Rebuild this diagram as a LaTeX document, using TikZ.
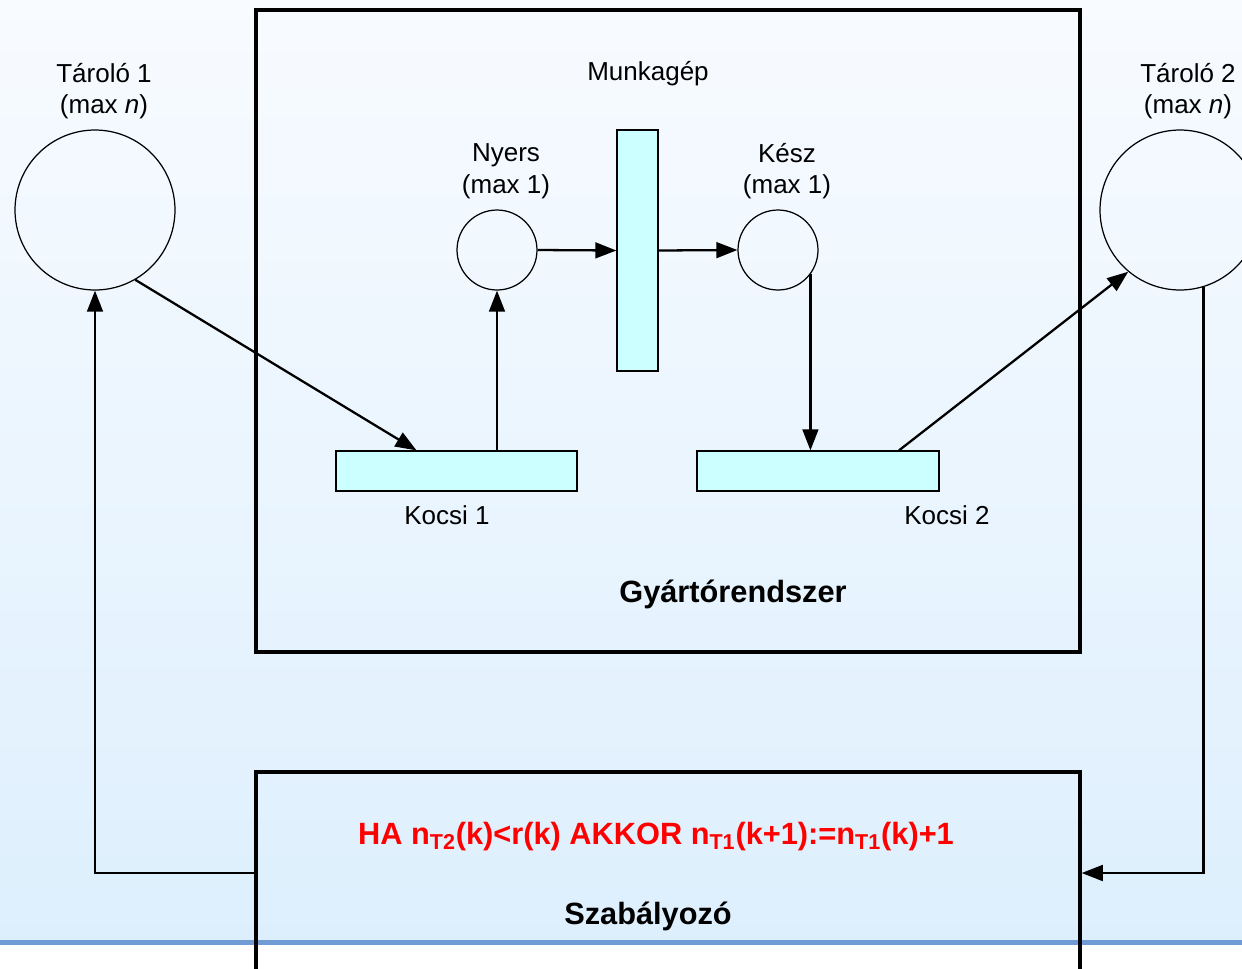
\documentclass[tikz,border=0pt]{standalone}
\usepackage{fontspec}
\setmainfont{Liberation Sans}
\usetikzlibrary{positioning,arrows.meta}
\definecolor{barfill}{HTML}{CCFFFF}
\definecolor{bgtop}{HTML}{F8FBFF}
\definecolor{bgbot}{HTML}{DDEFFD}
\definecolor{rulecol}{HTML}{709BD5}
\definecolor{ruletext}{HTML}{FF0000}

\begin{document}
\begin{tikzpicture}[x=0.02cm,y=-0.02cm,
  lbl/.style={align=center,font=\fontsize{14.8}{18}\selectfont,inner sep=0pt},
  bold/.style={font=\fontsize{17.5}{21}\selectfont\bfseries,inner sep=0pt},
  place/.style={draw,circle,line width=0.7pt,inner sep=0pt},
  bar/.style={draw,fill=barfill,line width=0.7pt,inner sep=0pt},
  frame/.style={draw,line width=2pt,inner sep=0pt},
  arr/.style={-{Triangle[length=12pt,width=9pt]},line width=1.3pt}]
\useasboundingbox (0,0) rectangle (1242,968);
\shade[top color=bgtop,bottom color=bgbot] (0,0) rectangle (1242,942);
\fill[rulecol] (0,939.5) rectangle (1242,944.5);
\node[frame,minimum width=16.48cm,minimum height=12.84cm] (gyarto) at (668,331) {};
\node[frame,minimum width=16.48cm,minimum height=4.04cm] (szab) at (668,873) {};
\node[place,minimum size=3.2cm] (taro1) at (95,210) {};
\node[place,minimum size=3.2cm] (taro2) at (1180,210) {};
\node[place,minimum size=1.6cm] (nyers) at (497,250) {};
\node[place,minimum size=1.6cm] (kesz) at (778,250) {};
\node[bar,minimum width=0.82cm,minimum height=4.82cm] (munkagep) at (637.5,250.5) {};
\node[bar,minimum width=4.82cm,minimum height=0.8cm] (kocsi1) at (456.5,471) {};
\node[bar,minimum width=4.84cm,minimum height=0.8cm] (kocsi2) at (818,471) {};
\node[lbl] (taro1lbl) at (104,91) {Tároló 1\\(max \textit{n})};
\node[lbl] (taro2lbl) at (1188,91) {Tároló 2\\(max \textit{n})};
\node[lbl] (munkageplbl) at (648,74) {Munkagép};
\node[lbl] (nyerslbl) at (506,171) {Nyers\\(max 1)};
\node[lbl] (keszlbl) at (787,171) {Kész\\(max 1)};
\node[lbl] (kocsi1lbl) at (447,515) {Kocsi 1};
\node[lbl] (kocsi2lbl) at (947,515) {Kocsi 2};
\node[bold] (gyartolbl) at (733,594) {Gyártórendszer};
\node[bold,text=ruletext] (szabrule) at (656,837)
  {HA n\textsubscript{T2}(k)<r(k) AKKOR n\textsubscript{T1}(k+1):=n\textsubscript{T1}(k)+1};
\node[bold] (szablbl) at (648,916) {Szabályozó};
\draw[arr] (taro1.-60) -- ([xshift=-0.8cm]kocsi1.north);
\draw[arr] (nyers.south |- kocsi1.north) -- (nyers.south);
\draw[arr] (nyers.east) -- (munkagep.west);
\draw[arr] (munkagep.east) -- (kesz.west);
\draw[arr] (kesz.-37) -- (kesz.-37 |- kocsi2.north);
\draw[arr] ([xshift=1.62cm]kocsi2.north) -- (taro2.230);
\draw[arr] (taro2.-73) |- (szab.east);
\draw[arr] (szab.west) -| (taro1.south);
\end{tikzpicture}
\end{document}
